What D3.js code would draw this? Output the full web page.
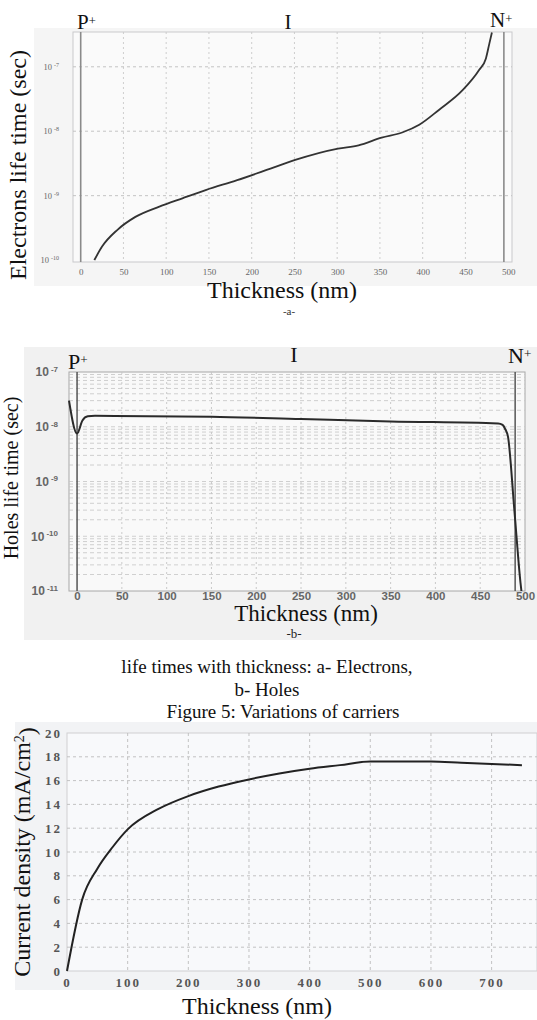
<!DOCTYPE html>
<html><head><meta charset="utf-8">
<script src="https://cdn.jsdelivr.net/npm/d3@7"></script>
<style>body{margin:0;background:#fff}svg{display:block}</style>
</head><body><svg id="c" width="537" height="1020"></svg>
<script>
// ---------- data ----------
const elecThickness = [16,25,43,64,92,119,147,183,222,250,301,325,352,376,396,419,447,466,474,478,481];
const elecLifetime = [1.0e-10,1.62e-10,2.95e-10,4.68e-10,6.76e-10,9.1e-10,1.23e-9,1.74e-9,2.63e-9,3.55e-9,5.37e-9,6.03e-9,7.94e-9,9.55e-9,1.26e-8,2.14e-8,4.37e-8,8.91e-8,1.35e-7,2.29e-7,3.4e-7];
const holeThickness = [-9,0,6,12,20,150,250,350,470,475,478,481,488,495,496];
const holeLifetime = [3.0e-8,7.5e-9,1.3e-8,1.55e-8,1.58e-8,1.52e-8,1.38e-8,1.25e-8,1.15e-8,1.08e-8,9.0e-9,6.6e-9,3.2e-10,1.4e-11,1e-11];
const jscThickness = [0,25,50,75,100,150,200,250,300,350,400,450,500,550,600,650,700,750];
const jscValues = [0,6.0,8.6,10.4,11.9,13.6,14.7,15.5,16.1,16.6,17.0,17.3,17.6,17.6,17.6,17.5,17.4,17.3];
const lifeXTicks = [0,50,100,150,200,250,300,350,400,450,500];
const lifeYTicksA = [1e-10,1e-9,1e-8,1e-7];
const lifeYTicksB = [1e-11,1e-10,1e-9,1e-8,1e-7];
const jscXTicks = [0,100,200,300,400,500,600,700];
const jscYTicks = [0,2,4,6,8,10,12,14,16,18,20];
const junctionA = [0,495];
const junctionB = [0,489];
const captionLines = ["life times with thickness: a- Electrons,","b- Holes","Figure 5: Variations of carriers"];

const SERIF = "'Liberation Serif','Times New Roman',serif";
const SANS = "'Liberation Sans',Arial,sans-serif";
const svg = d3.select("#c");
svg.append("rect").attr("width",537).attr("height",1020).attr("fill","#fff");

function supTicks(g, size, supSize, color, family, weight){
  g.selectAll(".tick text").each(function(d){
    const t = d3.select(this);
    const e = Math.round(Math.log10(d));
    t.text("10").attr("font-size",size).attr("fill",color).attr("font-family",family).attr("font-weight",weight||"normal");
    t.append("tspan").attr("dx",2).attr("dy","-0.55em").attr("font-size",supSize).text(String(e));
  });
}
function regionLabel(g, x, y, letter, size, anchor, plus){
  const t = g.append("text").attr("x",x).attr("y",y).attr("font-family",SERIF).attr("font-size",size)
    .attr("fill","#111").attr("text-anchor",anchor||"start").text(letter);
  if(plus) t.append("tspan").attr("dy","-0.35em").attr("font-size",size*0.6).text("+");
}

// ================= Panel A : electrons =================
(function(){
  const g = svg.append("g");
  const xA = d3.scaleLinear().domain([-9,504.5]).range([73,512]);
  const yA = d3.scaleLog().domain([Math.pow(10,-10.03),Math.pow(10,-6.46)]).range([262,32]);
  g.append("rect").attr("x",34).attr("y",28).attr("width",503).attr("height",258).attr("fill","#f5f5f5");
  g.append("rect").attr("x",73).attr("y",32).attr("width",439).attr("height",230).attr("fill","#fafafa").attr("stroke","#c9c9cc");
  g.selectAll(".vg").data(lifeXTicks.filter(d=>d>0&&d<500)).enter().append("line")
    .attr("x1",d=>xA(d)).attr("x2",d=>xA(d)).attr("y1",32).attr("y2",262)
    .attr("stroke","#c8c8c8").attr("stroke-dasharray","2,3").attr("stroke-width",0.9);
  g.selectAll(".hg").data(lifeYTicksA.slice(1)).enter().append("line")
    .attr("x1",73).attr("x2",512).attr("y1",d=>yA(d)).attr("y2",d=>yA(d))
    .attr("stroke","#bdbdbd").attr("stroke-dasharray","3,3").attr("stroke-width",0.9);
  g.selectAll(".jn").data(junctionA).enter().append("line")
    .attr("x1",d=>xA(d)).attr("x2",d=>xA(d)).attr("y1",32).attr("y2",262)
    .attr("stroke","#8a8a8a").attr("stroke-width",1.6);
  const ax = g.append("g").attr("transform","translate(0,262)")
    .call(d3.axisBottom(xA).tickValues(lifeXTicks).tickSize(0).tickPadding(7));
  ax.select(".domain").remove();
  ax.selectAll("text").attr("font-family",SERIF).attr("font-size",9).attr("fill","#666");
  const ay = g.append("g").attr("transform","translate(73,0)")
    .call(d3.axisLeft(yA).tickValues(lifeYTicksA).tickSize(0).tickPadding(14));
  ay.select(".domain").remove();
  supTicks(ay, 8.5, 6, "#666", SERIF);
  const line = d3.line().x((d,i)=>xA(elecThickness[i])).y(d=>yA(d)).curve(d3.curveMonotoneX);
  g.append("path").attr("d",line(elecLifetime)).attr("fill","none").attr("stroke","#333").attr("stroke-width",1.8);
  regionLabel(g,77,29,"P",21,"start",true);
  regionLabel(g,288,29,"I",21,"middle",false);
  regionLabel(g,490,27,"N",21,"start",true);
  g.append("text").attr("transform","translate(26,165) rotate(-90)").attr("text-anchor","middle")
    .attr("font-family",SERIF).attr("font-size",24).attr("fill","#111").text("Electrons life time (sec)");
  g.append("text").attr("x",282).attr("y",298).attr("text-anchor","middle")
    .attr("font-family",SERIF).attr("font-size",24).attr("fill","#111").text("Thickness (nm)");
  g.append("text").attr("x",289).attr("y",315).attr("text-anchor","middle")
    .attr("font-family",SERIF).attr("font-size",11).attr("fill","#333").text("-a-");
})();

// ================= Panel B : holes =================
(function(){
  const g = svg.append("g");
  const xB = d3.scaleLinear().domain([-9,500]).range([69,525]);
  const yB = d3.scaleLog().domain([1e-11,1e-7]).range([591,372]);
  g.append("rect").attr("x",24).attr("y",347).attr("width",513).attr("height",293).attr("fill","#f1f1f1");
  g.append("rect").attr("x",69).attr("y",372).attr("width",456).attr("height",219).attr("fill","#f9f9f9").attr("stroke","#a8a8a8");
  const minors = [];
  [-11,-10,-9,-8].forEach(e=>{ for(let k=1;k<=9;k++){ const v=k*Math.pow(10,e); if(v>1e-11) minors.push(v);} });
  g.selectAll(".hg").data(minors).enter().append("line")
    .attr("x1",69).attr("x2",525).attr("y1",d=>yB(d)).attr("y2",d=>yB(d))
    .attr("stroke","#c4c4c4").attr("stroke-dasharray","4,3").attr("stroke-width",0.8);
  g.selectAll(".vg").data(lifeXTicks.filter(d=>d>0&&d<500)).enter().append("line")
    .attr("x1",d=>xB(d)).attr("x2",d=>xB(d)).attr("y1",372).attr("y2",591)
    .attr("stroke","#c4c4c4").attr("stroke-dasharray","2,3").attr("stroke-width",0.9);
  g.selectAll(".jn").data(junctionB).enter().append("line")
    .attr("x1",d=>xB(d)).attr("x2",d=>xB(d)).attr("y1",372).attr("y2",591)
    .attr("stroke","#555").attr("stroke-width",1.5);
  const ax = g.append("g").attr("transform","translate(0,591)")
    .call(d3.axisBottom(xB).tickValues(lifeXTicks).tickSize(0).tickPadding(1));
  ax.select(".domain").remove();
  ax.selectAll("text").attr("font-family",SANS).attr("font-size",11.5).attr("fill","#666").attr("font-weight","bold");
  const ay = g.append("g").attr("transform","translate(69,0)")
    .call(d3.axisLeft(yB).tickValues(lifeYTicksB).tickSize(0).tickPadding(11));
  ay.select(".domain").remove();
  supTicks(ay, 12, 8, "#666", SANS, "bold");
  const line = d3.line().x((d,i)=>xB(holeThickness[i])).y(d=>yB(d)).curve(d3.curveMonotoneX);
  g.append("path").attr("d",line(holeLifetime)).attr("fill","none").attr("stroke","#2a2a2a").attr("stroke-width",2);
  regionLabel(g,68,369,"P",22,"start",true);
  regionLabel(g,294,362,"I",22,"middle",false);
  regionLabel(g,508,363,"N",22,"start",true);
  g.append("text").attr("transform","translate(18,478) rotate(-90)").attr("text-anchor","middle")
    .attr("font-family",SERIF).attr("font-size",20).attr("fill","#111").text("Holes life time (sec)");
  g.append("text").attr("x",306).attr("y",621).attr("text-anchor","middle")
    .attr("font-family",SERIF).attr("font-size",23).attr("fill","#111").text("Thickness (nm)");
  g.append("text").attr("x",294).attr("y",638).attr("text-anchor","middle")
    .attr("font-family",SERIF).attr("font-size",13).attr("fill","#222").text("-b-");
})();

// ================= Caption =================
svg.append("g").selectAll("text").data(captionLines).enter().append("text")
  .attr("x",(d,i)=>i===2?283:267).attr("y",(d,i)=>[673,696,718][i]).attr("text-anchor","middle")
  .attr("font-family",SERIF).attr("font-size",19).attr("fill","#111").text(d=>d);

// ================= Panel C : current density =================
(function(){
  const g = svg.append("g");
  const xC = d3.scaleLinear().domain([0,760]).range([67,528]);
  const yC = d3.scaleLinear().domain([0,20]).range([971,733]);
  g.append("rect").attr("x",15).attr("y",722).attr("width",522).attr("height",268).attr("fill","#f2f3f5");
  g.append("rect").attr("x",67).attr("y",733).attr("width",470).attr("height",238).attr("fill","#f8f9fb").attr("stroke","#cfcfd2");
  g.selectAll(".vg").data(jscXTicks.filter(d=>d>0)).enter().append("line")
    .attr("x1",d=>xC(d)).attr("x2",d=>xC(d)).attr("y1",733).attr("y2",971)
    .attr("stroke","#bcbcbc").attr("stroke-dasharray","3,3").attr("stroke-width",0.9);
  g.selectAll(".hg").data(jscYTicks.filter(d=>d>0&&d<20)).enter().append("line")
    .attr("x1",67).attr("x2",537).attr("y1",d=>yC(d)).attr("y2",d=>yC(d))
    .attr("stroke","#bcbcbc").attr("stroke-dasharray","3,3").attr("stroke-width",0.9);
  const ax = g.append("g").attr("transform","translate(0,971)")
    .call(d3.axisBottom(xC).tickValues(jscXTicks).tickSize(0).tickPadding(7));
  ax.select(".domain").remove();
  ax.selectAll("text").attr("font-family",SERIF).attr("font-size",13).attr("font-weight","bold")
    .attr("fill","#555").attr("letter-spacing","2px");
  const ay = g.append("g").attr("transform","translate(67,0)")
    .call(d3.axisLeft(yC).tickValues(jscYTicks).tickSize(0).tickPadding(5));
  ay.select(".domain").remove();
  ay.selectAll("text").attr("font-family",SERIF).attr("font-size",13).attr("font-weight","bold")
    .attr("fill","#555").attr("letter-spacing","2px");
  const line = d3.line().x((d,i)=>xC(jscThickness[i])).y(d=>yC(d)).curve(d3.curveMonotoneX);
  g.append("path").attr("d",line(jscValues)).attr("fill","none").attr("stroke","#222").attr("stroke-width",2);
  const yt = g.append("text").attr("transform","translate(30,852) rotate(-90)").attr("text-anchor","middle")
    .attr("font-family",SERIF).attr("font-size",24).attr("fill","#111").text("Current density (mA/cm");
  yt.append("tspan").attr("dy","-0.45em").attr("font-size",14).text("2");
  yt.append("tspan").attr("dy","0.45em").text(")");
  g.append("text").attr("x",257).attr("y",1014).attr("text-anchor","middle")
    .attr("font-family",SERIF).attr("font-size",24).attr("fill","#111").text("Thickness (nm)");
})();
</script></body></html>
